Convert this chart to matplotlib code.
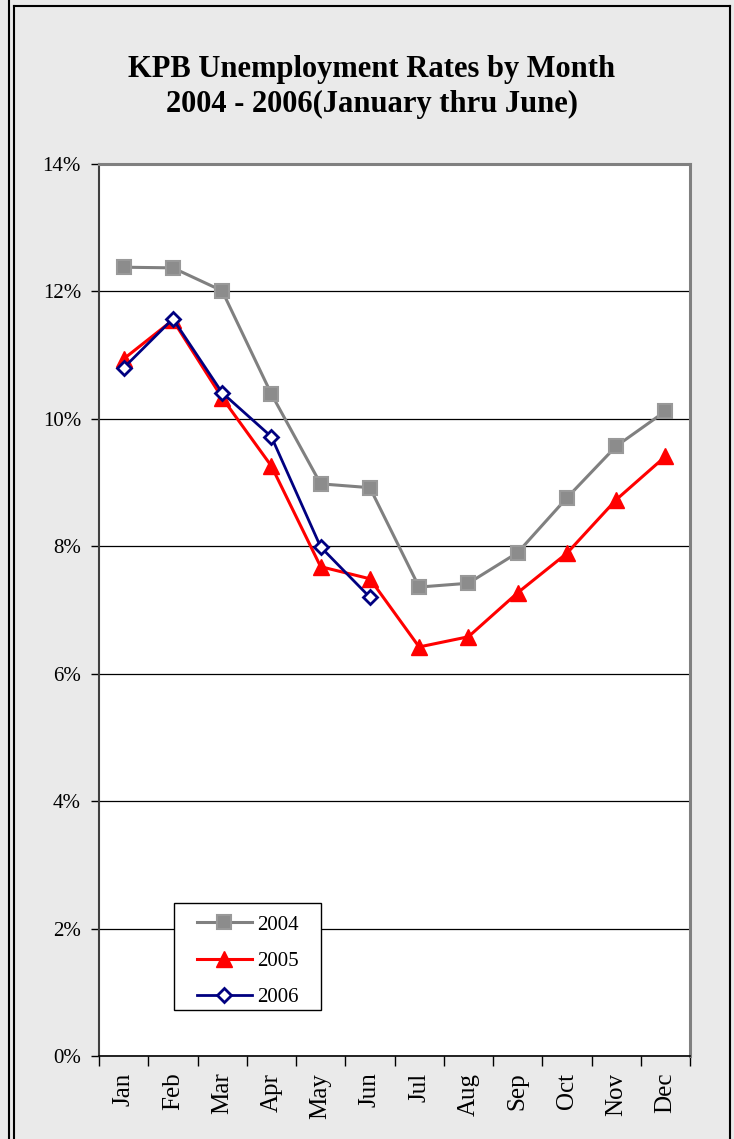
import matplotlib
matplotlib.use("Agg")
import matplotlib.pyplot as plt
import numpy as np
from matplotlib.lines import Line2D
from matplotlib.patches import Rectangle

# datos (tasa de desempleo, %)
meses = ["Jan", "Feb", "Mar", "Apr", "May", "Jun",
         "Jul", "Aug", "Sep", "Oct", "Nov", "Dec"]
tasa_2004 = [12.38, 12.37, 12.01, 10.39, 8.98, 8.92, 7.36, 7.42, 7.90, 8.76, 9.57, 10.12]
tasa_2005 = [10.94, 11.55, 10.33, 9.26, 7.68, 7.49, 6.42, 6.58, 7.27, 7.89, 8.73, 9.41]
tasa_2006 = [10.80, 11.57, 10.41, 9.72, 7.99, 7.20]
y_ticks = [0, 2, 4, 6, 8, 10, 12, 14]

plt.rcParams['font.family'] = ['Liberation Serif', 'DejaVu Serif']

W, H = 734, 1139
fondo = '#EAEAEA'
fig = plt.figure(figsize=(W / 100, H / 100), dpi=100, facecolor=fondo)

# bordes del marco
def linea(x0, y0, x1, y1, color='black', lw=1.5):
    fig.add_artist(Line2D([x0 / W, x1 / W], [1 - y0 / H, 1 - y1 / H],
                          color=color, lw=lw, transform=fig.transFigure))

linea(8.5, 0, 8.5, H)
linea(13.5, 5.5, 13.5, H)
linea(13.5, 5.5, 730, 5.5)
linea(730, 5.5, 730, H)

# titulo
fig.text(372 / W, 1 - 69 / H, "KPB Unemployment Rates by Month",
         ha='center', va='center', fontsize=22, fontweight='bold')
fig.text(372 / W, 1 - 104 / H, "2004 - 2006(January thru June)",
         ha='center', va='center', fontsize=22, fontweight='bold')

# area del grafico
left, right, top, bottom = 99, 690, 164, 1056
ax = fig.add_axes([left / W, 1 - bottom / H, (right - left) / W, (bottom - top) / H])
ax.set_facecolor('white')

x = np.arange(len(meses))
ax.plot(x, tasa_2004, color='#808080', lw=2.2, marker='s', markersize=10.5,
        markerfacecolor='#8C8C8C', markeredgecolor='#999999', markeredgewidth=1.5,
        label='2004', zorder=3)
ax.plot(x, tasa_2005, color='#FF0000', lw=2.2, marker='^', markersize=11,
        markerfacecolor='#FF0000', markeredgecolor='#FF0000',
        label='2005', zorder=4)
ax.plot(x[:len(tasa_2006)], tasa_2006, color='#000080', lw=2.0, marker='D', markersize=7.5,
        markerfacecolor='white', markeredgecolor='#000080', markeredgewidth=2,
        label='2006', zorder=5)

ax.set_xlim(-0.5, len(meses) - 0.5)
ax.set_ylim(0, 14)
ax.set_yticks(y_ticks)
ax.set_yticklabels([f"{t}%" for t in y_ticks], fontsize=15)
ax.yaxis.grid(True, color='black', lw=0.9)
ax.set_axisbelow(True)

ax.set_xticks(x)
ax.set_xticklabels(meses, rotation=90, fontsize=18)
ax.set_xticks(np.arange(-0.5, len(meses)), minor=True)
ax.tick_params(axis='x', which='major', length=0, pad=12)
ax.tick_params(axis='x', which='minor', length=7, width=1, direction='out')
ax.tick_params(axis='y', length=6, width=1, direction='out', pad=7)

for lado in ['top', 'right']:
    ax.spines[lado].set_color('#808080')
    ax.spines[lado].set_linewidth(2.2)
ax.spines['left'].set_color('#404040')
ax.spines['left'].set_linewidth(1.5)
ax.spines['bottom'].set_color('black')
ax.spines['bottom'].set_linewidth(1.2)

# cuadro de la leyenda dibujado aparte para controlar el margen
ax.add_patch(Rectangle((0.1269, 0.0516), 0.2487, 0.12, transform=ax.transAxes,
                       facecolor='white', edgecolor='black', lw=1.0, zorder=6))
leg = ax.legend(loc='upper left', bbox_to_anchor=(0.1658, 0.1580), borderaxespad=0,
                borderpad=0, fontsize=15, handlelength=2.64, labelspacing=0.8,
                handletextpad=0.25, frameon=False)
leg.set_zorder(7)

fig.savefig("out.png", dpi=100, facecolor=fondo)
